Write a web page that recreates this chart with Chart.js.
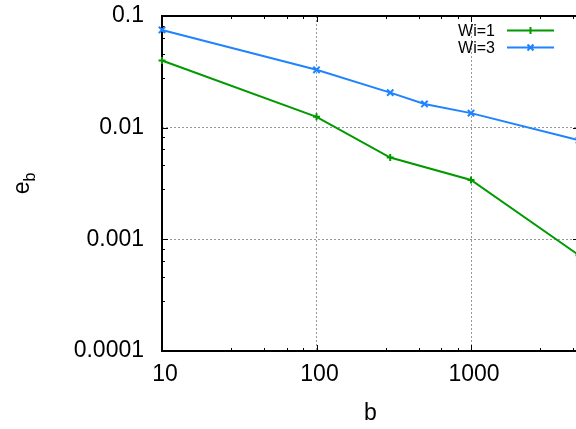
<!DOCTYPE html>
<html>
<head>
<meta charset="utf-8">
<script src="https://cdn.jsdelivr.net/npm/chart.js@4/dist/chart.umd.min.js"></script>
<style>
html,body{margin:0;padding:0;background:#fff;overflow:hidden;}
#wrap{width:576px;height:429px;overflow:hidden;}
</style>
</head>
<body>
<div id="wrap"><canvas id="c" width="600" height="429"></canvas></div>
<script>
// valeurs (log-log)
const bW1 = [10, 100, 300, 1000, 5000];
const eW1 = [0.04, 0.0125, 0.0054, 0.0034, 0.00072];
const bW3 = [10, 100, 300, 500, 1000, 5000];
const eW3 = [0.075, 0.033, 0.0206, 0.0163, 0.0135, 0.0077];
const seriesLabels = ['Wi=1', 'Wi=3'];
const seriesColors = ['#009a00', '#1f83ff'];
const xTicks = [10, 100, 1000];
const xTickLabels = ['10', '100', '1000'];
const yTicks = [0.0001, 0.001, 0.01, 0.1];
const yTickLabels = ['0.0001', '0.001', '0.01', '0.1'];
const xRange = [10, 5000];
const yRange = [0.0001, 0.1];
const xTitle = 'b';
const yTitle = ['e', 'b'];

const FONT = '"Liberation Sans", Arial, sans-serif';

// graduations secondaires lineaires entre deux decades (comme gnuplot mxtics 5)
function withMinor(majors, min, max){
  const out=[];
  majors.forEach(d=>{ for(let k=0;k<5;k++){ const v=d*(1+1.8*k); if(v>=min*0.999 && v<=max*1.001) out.push(v); } });
  return out;
}
const label = (majors, labels)=> (v)=>{ const i=majors.indexOf(v); return i>=0 ? labels[i] : ''; };
const gridColor = (majors, range)=> (c)=> (c.tick && majors.includes(c.tick.value) && c.tick.value!==range[0] && c.tick.value!==range[1]) ? '#999' : 'rgba(0,0,0,0)';

const frame = {
  id:'frame',
  beforeDatasetsDraw(chart){
    const {ctx, chartArea:a, scales:{x, y}} = chart;
    ctx.save();
    ctx.strokeStyle='#000'; ctx.lineWidth=1;
    ctx.beginPath();
    x.ticks.forEach(t=>{ const p=Math.round(x.getPixelForValue(t.value))+0.5; const L=xTicks.includes(t.value)?6:3;
      ctx.moveTo(p,a.bottom); ctx.lineTo(p,a.bottom-L); ctx.moveTo(p,a.top); ctx.lineTo(p,a.top+L); });
    y.ticks.forEach(t=>{ const p=Math.round(y.getPixelForValue(t.value))+0.5; const L=yTicks.includes(t.value)?6:3;
      ctx.moveTo(a.left,p); ctx.lineTo(a.left+L,p); ctx.moveTo(a.right,p); ctx.lineTo(a.right-L,p); });
    ctx.stroke();
    ctx.lineWidth=2;
    ctx.strokeRect(a.left, a.top, a.right-a.left, a.bottom-a.top);
    ctx.restore();
  },
  afterDraw(chart){
    const {ctx, chartArea:a} = chart;
    ctx.save();
    ctx.fillStyle='#000';
    // titres des axes
    ctx.font='23px '+FONT; ctx.textAlign='center'; ctx.textBaseline='alphabetic';
    ctx.fillText(xTitle, (a.left+a.right)/2, 420);
    ctx.translate(29, (a.top+a.bottom)/2); ctx.rotate(-Math.PI/2);
    ctx.font='23px '+FONT; const we=ctx.measureText(yTitle[0]).width;
    ctx.font='16px '+FONT; const wb=ctx.measureText(yTitle[1]).width;
    const x0=-(we+wb)/2;
    ctx.textAlign='left';
    ctx.font='23px '+FONT; ctx.fillText(yTitle[0], x0, 0);
    ctx.font='16px '+FONT; ctx.fillText(yTitle[1], x0+we, 6);
    ctx.restore();
    // legende (texte puis echantillon, a la gnuplot)
    ctx.save();
    ctx.font='16px '+FONT; ctx.textAlign='right'; ctx.textBaseline='alphabetic';
    chart.data.datasets.forEach((ds,i)=>{
      const yl = a.top+14.5+17*i, x1=a.right-25, x0=x1-47, xm=(x0+x1)/2;
      ctx.fillStyle='#000'; ctx.fillText(ds.label, x0-12, yl+5.5);
      ctx.strokeStyle=ds.borderColor; ctx.lineWidth=2;
      ctx.beginPath(); ctx.moveTo(x0,yl); ctx.lineTo(x1,yl);
      if(ds.pointStyle==='cross'){ ctx.moveTo(xm,yl-3.5); ctx.lineTo(xm,yl+3.5); }
      else { ctx.moveTo(xm-3,yl-3); ctx.lineTo(xm+3,yl+3); ctx.moveTo(xm-3,yl+3); ctx.lineTo(xm+3,yl-3); }
      ctx.stroke();
    });
    ctx.restore();
  }
};

new Chart(document.getElementById('c'), {
  type:'line',
  data:{ datasets:[
    { label:seriesLabels[0], data:bW1.map((b,i)=>({x:b, y:eW1[i]})), borderColor:seriesColors[0], backgroundColor:seriesColors[0],
      borderWidth:2, pointStyle:'cross', pointRadius:3.5, pointBorderWidth:2, tension:0, clip:false },
    { label:seriesLabels[1], data:bW3.map((b,i)=>({x:b, y:eW3[i]})), borderColor:seriesColors[1], backgroundColor:seriesColors[1],
      borderWidth:2, pointStyle:'crossRot', pointRadius:4.5, pointBorderWidth:2, tension:0, clip:false }
  ]},
  options:{
    responsive:false, animation:false, devicePixelRatio:1,
    layout:{ padding:{ top:16, right:21, left:0, bottom:0 }, autoPadding:false },
    plugins:{ legend:{display:false}, tooltip:{enabled:false} },
    scales:{
      x:{ type:'logarithmic', min:xRange[0], max:xRange[1],
        afterBuildTicks:(s)=>{ s.ticks = withMinor(xTicks, xRange[0], xRange[1]).map(v=>({value:v})); },
        afterFit:(s)=>{ s.height=78; s.paddingLeft=0; s.paddingRight=0; },
        ticks:{ callback:label(xTicks, xTickLabels), autoSkip:false, maxRotation:0, padding:10, labelOffset:3, color:'#000', font:{family:FONT, size:23} },
        grid:{ drawTicks:false, color:gridColor(xTicks, xRange), lineWidth:1 },
        border:{ display:false, dash:[2,2] } },
      y:{ type:'logarithmic', min:yRange[0], max:yRange[1],
        afterBuildTicks:(s)=>{ s.ticks = withMinor(yTicks, yRange[0], yRange[1]).map(v=>({value:v})); },
        afterFit:(s)=>{ s.width=162; s.paddingTop=0; s.paddingBottom=0; },
        ticks:{ callback:label(yTicks, yTickLabels), autoSkip:false, padding:18, color:'#000', font:{family:FONT, size:23} },
        grid:{ drawTicks:false, color:gridColor(yTicks, yRange), lineWidth:1 },
        border:{ display:false, dash:[2,2] } }
    }
  },
  plugins:[frame]
});
</script>
</body>
</html>
